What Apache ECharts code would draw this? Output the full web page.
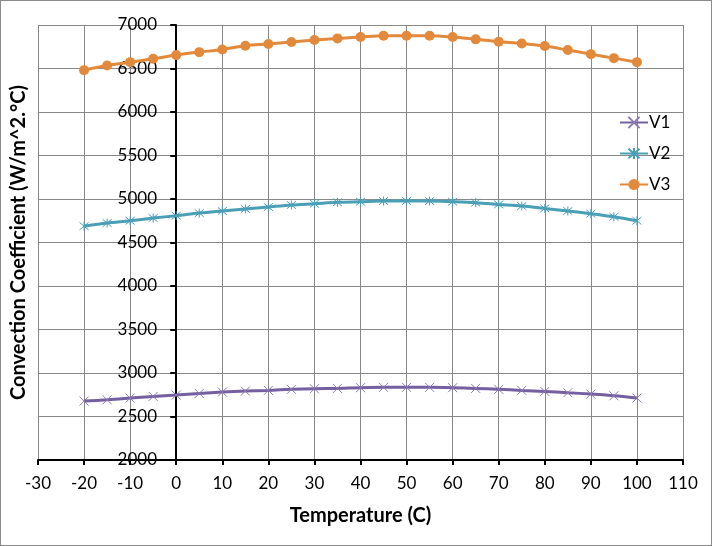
<!DOCTYPE html>
<html>
<head>
<meta charset="utf-8">
<script src="https://cdn.jsdelivr.net/npm/echarts@6/dist/echarts.min.js"></script>
<style>
html,body{margin:0;padding:0;background:#fff;}
#c{width:712px;height:546px;box-sizing:border-box;border:1px solid #8a8a8a;}
</style>
</head>
<body>
<div id="c"></div>
<script>
const temperatures = [-20,-15,-10,-5,0,5,10,15,20,25,30,35,40,45,50,55,60,65,70,75,80,85,90,95,100];
const v1 = [2677,2692,2712,2731,2746,2765,2781,2792,2800,2812,2819,2823,2831,2835,2835,2835,2831,2823,2812,2800,2788,2773,2758,2738,2712];
const v2 = [4688,4723,4750,4781,4808,4838,4862,4885,4908,4931,4946,4962,4969,4977,4977,4977,4969,4958,4938,4919,4892,4862,4831,4796,4750];
const v3 = [6481,6535,6573,6612,6654,6688,6719,6762,6781,6804,6827,6846,6862,6877,6877,6877,6862,6835,6808,6788,6758,6712,6665,6619,6573];
const seriesNames = ['V1','V2','V3'];
const xTitle = 'Temperature (C)';
const yTitle = 'Convection Coefficient (W/m^2.°C)';

const pair = (vals) => temperatures.map((t,i)=>[t, vals[i]]);
const FONT = 'Lato, "Open Sans", sans-serif';
const crossPath = 'path://M0,0L10,10M10,0L0,10';
const starPath = 'path://M0,0L10,10M10,0L0,10M5,-1L5,11';

const chart = echarts.init(document.getElementById('c'));
chart.setOption({
  animation:false,
  backgroundColor:'#fff',
  grid:{left:37,right:28,top:24,bottom:85,containLabel:false,outerBoundsMode:'none'},
  legend:{
    orient:'vertical', left:613, top:108, itemGap:14, itemWidth:28, itemHeight:14,
    textStyle:{fontFamily:FONT,fontSize:17,color:'#000',padding:[0,0,0,-4]},
    data:seriesNames
  },
  xAxis:{
    type:'value', min:-30, max:110, interval:10,
    name:xTitle, nameLocation:'middle', nameGap:46,
    nameTextStyle:{fontFamily:FONT,fontSize:20,fontWeight:'bold',color:'#000'},
    axisLine:{onZero:false,lineStyle:{color:'#000',width:2}},
    axisTick:{show:true,length:5,lineStyle:{color:'#000',width:2}},
    axisLabel:{fontFamily:FONT,fontSize:17,color:'#000',margin:15},
    splitLine:{show:true,lineStyle:{color:'#888',width:1}}
  },
  yAxis:{
    type:'value', min:2000, max:7000, interval:500,
    name:yTitle, nameLocation:'middle', nameGap:9,
    nameTextStyle:{fontFamily:FONT,fontSize:20,fontWeight:'bold',color:'#000'},
    axisLine:{show:true,onZero:true,lineStyle:{color:'#000',width:2}},
    axisTick:{show:true,length:6,lineStyle:{color:'#000',width:2}},
    axisLabel:{fontFamily:FONT,fontSize:17,color:'#000',margin:-119,formatter:(v)=>String(v)},
    splitLine:{show:true,lineStyle:{color:'#888',width:1}}
  },
  series:[
    {name:'V1',type:'line',data:pair(v1),smooth:0.3,
     symbol:crossPath,symbolSize:9,showAllSymbol:true,
     lineStyle:{color:'#7460A0',width:3},
     itemStyle:{color:'#8D7AB0',borderColor:'#8D7AB0',borderWidth:1}},
    {name:'V2',type:'line',data:pair(v2),smooth:0.3,
     symbol:starPath,symbolSize:9,showAllSymbol:true,
     lineStyle:{color:'#4A9FB6',width:3},
     itemStyle:{color:'#4A9FB6',borderColor:'#4A9FB6',borderWidth:1}},
    {name:'V3',type:'line',data:pair(v3),smooth:0.3,
     symbol:'circle',symbolSize:10,showAllSymbol:true,
     lineStyle:{color:'#E3893C',width:3},
     itemStyle:{color:'#E3893C'}}
  ]
});
</script>
</body>
</html>
